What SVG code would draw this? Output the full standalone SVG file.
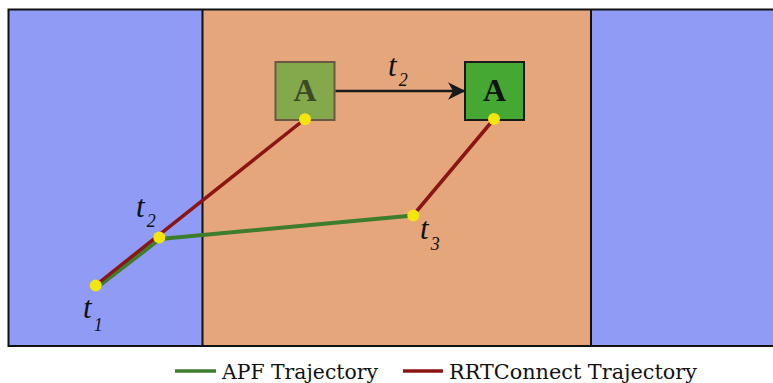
<svg xmlns="http://www.w3.org/2000/svg" width="773" height="383" viewBox="0 0 773 383">
  <defs>
    <style>
      .zone-free { fill: #8F9BF4; }
      .zone-mid { fill: #E5A67B; }
      .frame { fill: none; stroke: #111; stroke-width: 2; }
      .apf { fill: none; stroke: #3E7D2B; stroke-width: 4; stroke-linecap: round; stroke-linejoin: round; }
      .rrt { fill: none; stroke: #8B1414; stroke-width: 3.5; stroke-linecap: round; }
      .waypoint { fill: #F2E60C; }
      .tlabel { font-family: "Liberation Serif", "DejaVu Serif", serif; font-style: italic; font-size: 31px; fill: #111; }
      .tsub { font-size: 18px; }
      .agent-label { font-family: "Liberation Serif", "DejaVu Serif", serif; font-weight: bold; font-size: 32px; text-anchor: middle; }
      .legend { font-family: "DejaVu Serif", "Liberation Serif", serif; font-size: 20px; fill: #111; }
    </style>
    <marker id="arrowhead" viewBox="0 0 12 12" refX="11" refY="6" markerWidth="7" markerHeight="7" markerUnits="strokeWidth" orient="auto">
      <path d="M0,0 L12,6 L0,12 L3.5,6 Z" fill="#1a1a1a"/>
    </marker>
  </defs>

  <!-- regions -->
  <g id="regions">
    <rect class="zone-free" x="8.5" y="9.5" width="194" height="336.5"/>
    <rect class="zone-mid" x="202.5" y="9.5" width="388.5" height="336.5"/>
    <rect class="zone-free" x="591" y="9.5" width="183" height="336.5"/>
    <rect class="frame" x="8.5" y="9.5" width="767" height="336.5"/>
    <line x1="202.5" y1="9.5" x2="202.5" y2="346" stroke="#111" stroke-width="2"/>
    <line x1="591" y1="9.5" x2="591" y2="346" stroke="#111" stroke-width="2"/>
  </g>

  <!-- agent at start and goal -->
  <g id="agent-start">
    <rect x="275.5" y="62" width="59" height="58" fill="#84A84C" stroke="#6A5844" stroke-width="2"/>
    <text class="agent-label" x="305" y="101" fill="#3D4A26">A</text>
  </g>
  <g id="agent-goal">
    <rect x="465" y="62" width="59" height="58" fill="#44A832" stroke="#1a1a1a" stroke-width="2"/>
    <text class="agent-label" x="494.5" y="101" fill="#111">A</text>
  </g>

  <!-- connectors -->
  <g id="connectors">
    <line x1="335.5" y1="91" x2="464" y2="91" stroke="#1a1a1a" stroke-width="2.5" marker-end="url(#arrowhead)"/>
    <polyline class="apf" points="97,287.5 160,239 413,215.5"/>
    <line class="rrt" x1="96" y1="285" x2="305" y2="119"/>
    <line class="rrt" x1="413" y1="215.5" x2="494" y2="119"/>
  </g>

  <!-- waypoints -->
  <g id="waypoints">
    <circle class="waypoint" cx="95.7" cy="285.5" r="6"/>
    <circle class="waypoint" cx="159.3" cy="237.5" r="6"/>
    <circle class="waypoint" cx="413.3" cy="215.5" r="6"/>
    <circle class="waypoint" cx="305" cy="119.3" r="6"/>
    <circle class="waypoint" cx="494" cy="119" r="6"/>
  </g>

  <!-- time labels -->
  <g id="time-labels">
    <text class="tlabel" x="388" y="76">t<tspan class="tsub" dx="2" dy="10">2</tspan></text>
    <text class="tlabel" x="136" y="217">t<tspan class="tsub" dx="2" dy="10">2</tspan></text>
    <text class="tlabel" x="83" y="318">t<tspan class="tsub" dx="2" dy="13">1</tspan></text>
    <text class="tlabel" x="420" y="239">t<tspan class="tsub" dx="2" dy="11">3</tspan></text>
  </g>

  <!-- legend -->
  <g id="legend">
    <line x1="175" y1="371" x2="216" y2="371" stroke="#3E7D2B" stroke-width="3.5"/>
    <text class="legend" x="222" y="379" textLength="156" lengthAdjust="spacingAndGlyphs">APF Trajectory</text>
    <line x1="403" y1="371" x2="443" y2="371" stroke="#8B1414" stroke-width="3.5"/>
    <text class="legend" x="449" y="379" textLength="248" lengthAdjust="spacingAndGlyphs">RRTConnect Trajectory</text>
  </g>
</svg>
